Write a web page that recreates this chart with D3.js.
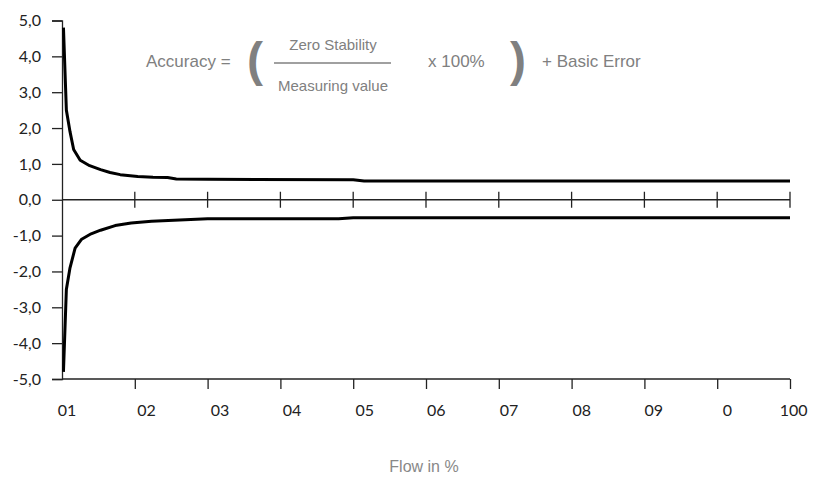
<!DOCTYPE html>
<html>
<head>
<meta charset="utf-8">
<script src="https://cdn.jsdelivr.net/npm/d3@7"></script>
<style>
  html, body { margin: 0; padding: 0; background: #fff; }
  svg { display: block; }
</style>
</head>
<body>
<svg id="chart" width="814" height="484"></svg>
<script>
// ---- data ----
const upperX = [0.2, 0.6, 1.1, 1.6, 2.5, 3.8, 5.3, 6.6, 8.0, 10.4, 12.5, 14.5, 15.7, 20, 40, 41.5, 50, 100];
const upperY = [4.8, 2.5, 1.9, 1.4, 1.1, 0.95, 0.84, 0.76, 0.70, 0.65, 0.63, 0.62, 0.58, 0.57, 0.56, 0.52, 0.52, 0.52];
const lowerX = [0.2, 0.6, 1.1, 1.8, 2.7, 4.0, 5.3, 7.3, 9.5, 12.3, 14.6, 20, 38, 40, 100];
const lowerY = [-4.8, -2.5, -1.9, -1.35, -1.1, -0.95, -0.85, -0.72, -0.65, -0.6, -0.58, -0.53, -0.53, -0.5, -0.5];
const yTicks = [5, 4, 3, 2, 1, 0, -1, -2, -3, -4, -5];
const xTicks = [10, 20, 30, 40, 50, 60, 70, 80, 90, 100];
const xTickLabels = ["01", "02", "03", "04", "05", "06", "07", "08", "09", "0", "100"];
const xTickLabelAt = [0.7, 11.6, 21.7, 31.6, 41.6, 51.4, 61.4, 71.4, 81.3, 91.4, 100.5];
const xTitle = "Flow in %";

// ---- layout ----
const svg = d3.select("#chart");
const x = d3.scaleLinear().domain([0, 100]).range([62, 790]);
const y = d3.scaleLinear().domain([-5, 5]).range([379, 20.5]);
const axisColor = "#222";
const numFont = "'Century Gothic','URW Gothic','Lato','Open Sans',sans-serif";
const txtFont = "'Liberation Sans',Arial,sans-serif";

// y axis
const yAxis = d3.axisLeft(y).tickValues(yTicks).tickSize(10).tickPadding(11)
  .tickFormat(d => d3.format(".1f")(d).replace(".", ",").replace("−", "-"));
const gy = svg.append("g").attr("transform", `translate(${x(0)},0)`).call(yAxis);
gy.select(".domain").attr("stroke", axisColor).attr("stroke-width", 1.3);
gy.selectAll(".tick line").attr("stroke", axisColor).attr("stroke-width", 1.3);
gy.selectAll(".tick text").attr("fill", "#222").style("font-family", numFont).style("font-size", "16px");

// bottom x axis
const xAxis = d3.axisBottom(x).tickValues(xTicks).tickSize(10).tickFormat("");
const gx = svg.append("g").attr("transform", `translate(0,${y(-5)})`).call(xAxis);
gx.select(".domain").attr("stroke", axisColor).attr("stroke-width", 1.3).attr("d", `M${x(0)},0H${x(100)}`);
gx.selectAll(".tick line").attr("stroke", axisColor).attr("stroke-width", 1.3);

// tick labels
svg.append("g").selectAll("text").data(xTickLabels).join("text")
  .attr("x", (d, i) => x(xTickLabelAt[i]))
  .attr("y", 416)
  .attr("text-anchor", "middle")
  .attr("fill", "#222")
  .style("font-family", numFont).style("font-size", "16px")
  .text(d => d);

// zero line with crossing ticks
const gz = svg.append("g");
gz.append("line").attr("x1", x(0)).attr("x2", x(100)).attr("y1", y(0)).attr("y2", y(0))
  .attr("stroke", axisColor).attr("stroke-width", 1.3);
gz.selectAll("line.t").data(xTicks).join("line").attr("class", "t")
  .attr("x1", d => x(d)).attr("x2", d => x(d))
  .attr("y1", y(0) - 8).attr("y2", y(0) + 8)
  .attr("stroke", axisColor).attr("stroke-width", 1.3);

// curves
const line = d3.line().x(d => x(d[0])).y(d => y(d[1]));
const upper = upperX.map((v, i) => [v, upperY[i]]);
const lower = lowerX.map((v, i) => [v, lowerY[i]]);
svg.append("path").datum(upper).attr("d", line).attr("fill", "none")
  .attr("stroke", "#000").attr("stroke-width", 3).attr("stroke-linejoin", "round");
svg.append("path").datum(lower).attr("d", line).attr("fill", "none")
  .attr("stroke", "#000").attr("stroke-width", 3).attr("stroke-linejoin", "round");

// x axis title
svg.append("text").attr("x", 424).attr("y", 472).attr("text-anchor", "middle")
  .attr("fill", "#888").style("font-family", txtFont).style("font-size", "16px")
  .text(xTitle);

// formula
const fg = svg.append("g").attr("fill", "#808080")
  .style("font-family", txtFont).style("font-size", "17px");
fg.append("text").attr("x", 146).attr("y", 67).text("Accuracy =");
fg.append("text").attr("x", 255).attr("y", 76).attr("text-anchor", "middle")
  .style("font-size", "48px").style("font-weight", "bold").text("(");
fg.append("text").attr("x", 333).attr("y", 50).attr("text-anchor", "middle")
  .style("font-size", "15px").text("Zero Stability");
fg.append("line").attr("x1", 274).attr("x2", 391).attr("y1", 63).attr("y2", 63)
  .attr("stroke", "#808080").attr("stroke-width", 1.3);
fg.append("text").attr("x", 333).attr("y", 91).attr("text-anchor", "middle")
  .style("font-size", "15px").text("Measuring value");
fg.append("text").attr("x", 428).attr("y", 67).text("x 100%");
fg.append("text").attr("x", 518).attr("y", 76).attr("text-anchor", "middle")
  .style("font-size", "48px").style("font-weight", "bold").text(")");
fg.append("text").attr("x", 542).attr("y", 67).text("+ Basic Error");
</script>
</body>
</html>
